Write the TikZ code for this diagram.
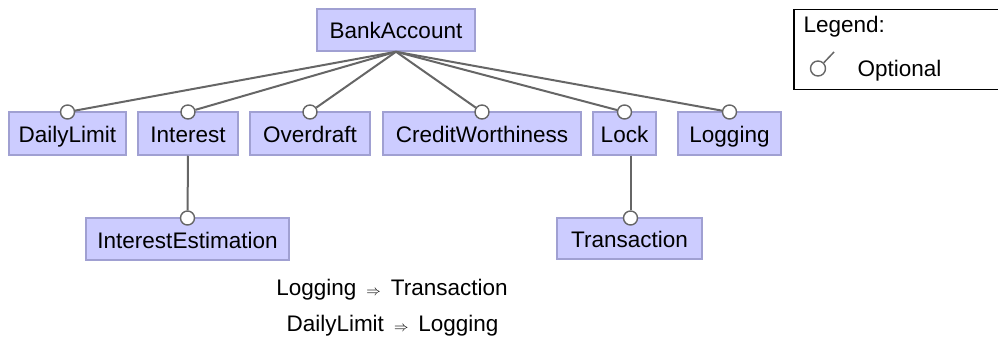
\documentclass[tikz,border=0pt]{standalone}
\usepackage{fontspec}
\setmainfont{Liberation Sans}
\definecolor{featfill}{RGB}{204,204,255}
\definecolor{featdraw}{RGB}{160,160,210}
\definecolor{edgegray}{RGB}{102,102,102}
\newcommand{\impl}{\hspace{10pt}{\fontsize{14}{14}\selectfont$\Rightarrow$}\hspace{10pt}}
\tikzset{
  feature/.style={draw=featdraw, fill=featfill, line width=1.5pt, minimum height=43,
    inner sep=2pt, text height=19, text depth=1},
  optc/.style={circle, draw=edgegray, fill=white, line width=1.4pt, inner sep=0pt, minimum size=14},
  edge/.style={draw=edgegray, line width=2pt},
}
\begin{document}
\begin{tikzpicture}[x=1pt, y=-1pt, every node/.style={font=\fontsize{22.5}{26}\selectfont}]
\useasboundingbox (0,0) rectangle (998,342);

% features
\node[feature, minimum width=158, minimum height=42] (bank) at (396,30) {BankAccount};
\node[feature, minimum width=117] (daily) at (67.5,133.5) {DailyLimit};
\node[feature, minimum width=100] (interest) at (188,133.5) {Interest};
\node[feature, minimum width=120] (overdraft) at (310,133.5) {Overdraft};
\node[feature, minimum width=198] (credit) at (482,133.5) {CreditWorthiness};
\node[feature, minimum width=63] (lock) at (624.5,133.5) {Lock};
\node[feature, minimum width=103] (logging) at (729.5,133.5) {Logging};
\node[feature, minimum width=203, minimum height=42] (estim) at (187.5,239) {InterestEstimation};
\node[feature, minimum width=145, minimum height=41] (trans) at (629.5,238.5) {Transaction};

% optional markers
\node[optc] (odaily) at (67.5,112) {};
\node[optc] (ointerest) at (188,112) {};
\node[optc] (ooverdraft) at (310,112) {};
\node[optc] (ocredit) at (482,112) {};
\node[optc] (olock) at (624.5,112) {};
\node[optc] (ologging) at (729.5,112) {};
\node[optc] (oestim) at (187.5,218) {};
\node[optc] (otrans) at (630.5,218) {};

\foreach \f in {odaily,ointerest,ooverdraft,ocredit,olock,ologging}
  \draw[edge] (bank.south) -- (\f);
\draw[edge] (interest.south) -- (oestim);
\draw[edge] (otrans |- lock.south) -- (otrans);

% legend
\node[draw=black, line width=1.5pt, anchor=north west, minimum width=210, minimum height=80, inner sep=0pt] (legend) at (793,9) {};
\node[anchor=west] (legtitle) at (800,27) {Legend:};
\node[optc, minimum size=15, line width=1.4pt] (legcirc) at (818,68.5) {};
\coordinate (legtip) at (834,52);
\draw[edge, line width=1.5pt] (legcirc.45) -- (legtip);
\node[anchor=west] (legopt) at (854,71) {Optional};

% constraints
\node (cons1) at (392,290) {Logging\impl Transaction};
\node (cons2) at (392.5,326) {DailyLimit\impl Logging};
\end{tikzpicture}
\end{document}
